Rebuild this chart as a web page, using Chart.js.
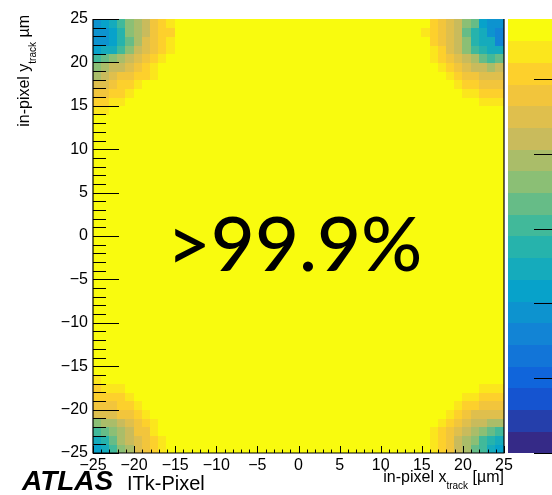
<!DOCTYPE html>
<html>
<head>
<meta charset="utf-8">
<script src="https://cdn.jsdelivr.net/npm/chart.js@4.4.1/dist/chart.umd.min.js"></script>
<style>
    html, body { margin: 0; padding: 0; background: #fff; }
</style>
</head>
<body>
<canvas id="effMap" width="552" height="495"></canvas>
<script>
// in-pixel binning (um), 1 um bins
var nBins = 50;
var axisMin = -25, axisMax = 25;
var tickLabels = [-25, -20, -15, -10, -5, 0, 5, 10, 15, 20, 25];
var bulkEff = 1.000;

// colour scale
var zMin = 0.940, zMax = 0.998, nContours = 20;
var zTicks = [0.94, 0.95, 0.96, 0.97, 0.98, 0.99];

// corner efficiencies: row 0 = bin row at the pixel edge, entry 0 = bin at the pixel edge
// (bins not listed are at bulkEff)
var cornerTopLeft = [
    [0.959, 0.962, 0.965, 0.970, 0.976, 0.979, 0.982, 0.988, 0.991, 0.994],
    [0.959, 0.959, 0.962, 0.968, 0.976, 0.979, 0.982, 0.988, 0.991, 0.991],
    [0.959, 0.959, 0.962, 0.968, 0.973, 0.979, 0.985, 0.988, 0.991, 0.994],
    [0.962, 0.965, 0.965, 0.970, 0.976, 0.982, 0.985, 0.988, 0.991, 0.994],
    [0.970, 0.973, 0.976, 0.979, 0.982, 0.985, 0.988, 0.991, 0.994],
    [0.976, 0.979, 0.982, 0.982, 0.985, 0.988, 0.991, 0.994],
    [0.979, 0.982, 0.985, 0.988, 0.988, 0.991, 0.991, 0.994],
    [0.985, 0.985, 0.988, 0.991, 0.991, 0.994],
    [0.988, 0.988, 0.991, 0.991, 0.994],
    [0.991, 0.991, 0.994, 0.994],
    [0.994, 0.994]
];
var cornerTopRight = [
    [0.959, 0.959, 0.962, 0.973, 0.976, 0.982, 0.985, 0.988, 0.991],
    [0.956, 0.959, 0.965, 0.968, 0.973, 0.982, 0.985, 0.988, 0.991, 0.994],
    [0.956, 0.965, 0.965, 0.968, 0.976, 0.982, 0.985, 0.988, 0.991],
    [0.965, 0.965, 0.968, 0.970, 0.976, 0.982, 0.985, 0.991, 0.994],
    [0.973, 0.970, 0.973, 0.979, 0.982, 0.985, 0.988, 0.991, 0.994],
    [0.982, 0.979, 0.982, 0.982, 0.985, 0.988, 0.991, 0.994],
    [0.985, 0.985, 0.985, 0.988, 0.988, 0.991, 0.994],
    [0.988, 0.988, 0.988, 0.991, 0.991, 0.994],
    [0.991, 0.991, 0.991, 0.994, 0.994],
    [0.994, 0.994, 0.994]
];
var cornerBottomLeft = [
    [0.962, 0.965, 0.970, 0.976, 0.979, 0.985, 0.988, 0.991, 0.994],
    [0.965, 0.968, 0.973, 0.979, 0.982, 0.985, 0.988, 0.991, 0.994],
    [0.970, 0.973, 0.976, 0.979, 0.982, 0.988, 0.988, 0.994],
    [0.976, 0.979, 0.979, 0.982, 0.985, 0.988, 0.991, 0.994],
    [0.985, 0.985, 0.985, 0.988, 0.988, 0.991, 0.994],
    [0.988, 0.988, 0.988, 0.991, 0.991, 0.994],
    [0.991, 0.991, 0.991, 0.991, 0.994],
    [0.991, 0.994, 0.994, 0.994],
    [0.994]
];
var cornerBottomRight = [
    [0.962, 0.965, 0.970, 0.973, 0.979, 0.982, 0.988, 0.991, 0.994],
    [0.965, 0.968, 0.970, 0.976, 0.979, 0.982, 0.988, 0.991, 0.994],
    [0.970, 0.973, 0.976, 0.979, 0.982, 0.985, 0.988, 0.991, 0.994],
    [0.979, 0.979, 0.982, 0.982, 0.985, 0.988, 0.991, 0.994],
    [0.985, 0.985, 0.985, 0.985, 0.988, 0.991, 0.994],
    [0.988, 0.988, 0.988, 0.991, 0.991, 0.994],
    [0.991, 0.991, 0.991, 0.994, 0.994],
    [0.994, 0.994, 0.994]
];

// ROOT kBird palette stops
var birdR = [0.2082, 0.0592, 0.0780, 0.0232, 0.1802, 0.5301, 0.8186, 0.9956, 0.9764];
var birdG = [0.1664, 0.3599, 0.5041, 0.6419, 0.7178, 0.7492, 0.7328, 0.7862, 0.9832];
var birdB = [0.5293, 0.8684, 0.8385, 0.7914, 0.6425, 0.4662, 0.3499, 0.1968, 0.0539];

function birdColor(t) {
    var p = Math.max(0, Math.min(1, t)) * (birdR.length - 1);
    var i = Math.min(Math.floor(p), birdR.length - 2);
    var f = p - i;
    var r = birdR[i] + (birdR[i + 1] - birdR[i]) * f;
    var g = birdG[i] + (birdG[i + 1] - birdG[i]) * f;
    var b = birdB[i] + (birdB[i + 1] - birdB[i]) * f;
    return 'rgb(' + Math.round(r * 255) + ',' + Math.round(g * 255) + ',' + Math.round(b * 255) + ')';
}

function levelColor(level) {
    return birdColor(level / (nContours - 1));
}

function valueLevel(v) {
    var l = Math.floor((v - zMin) / (zMax - zMin) * nContours);
    return Math.max(0, Math.min(nContours - 1, l));
}

// eff[ix][iy], iy = 0 at the bottom
var eff = [];
for (var ix = 0; ix < nBins; ix++) {
    eff.push([]);
    for (var iy = 0; iy < nBins; iy++) eff[ix].push(bulkEff);
}
function fillCorner(rows, fromRight, fromTop) {
    rows.forEach(function(row, r) {
        row.forEach(function(v, c) {
            var ix = fromRight ? nBins - 1 - c : c;
            var iy = fromTop ? nBins - 1 - r : r;
            eff[ix][iy] = v;
        });
    });
}
fillCorner(cornerTopLeft, false, true);
fillCorner(cornerTopRight, true, true);
fillCorner(cornerBottomLeft, false, false);
fillCorner(cornerBottomRight, true, false);

function fmtTick(v) {
    return v < 0 ? '\u2212' + Math.abs(v) : String(v);
}

// text with a subscript piece, pieces = [[text, isSub], ...]
function pieceWidths(ctx, pieces, mainFont, subFont) {
    return pieces.map(function(p) {
        ctx.font = p[1] ? subFont : mainFont;
        return ctx.measureText(p[0]).width;
    });
}
function drawPieces(ctx, pieces, x, y, mainFont, subFont, subDrop) {
    var w = pieceWidths(ctx, pieces, mainFont, subFont);
    pieces.forEach(function(p, i) {
        ctx.font = p[1] ? subFont : mainFont;
        ctx.fillText(p[0], x, p[1] ? y + subDrop : y);
        x += w[i];
    });
}

var heatmapPlugin = {
    id: 'heatmap',
    afterDraw: function(chart) {
        var ctx = chart.ctx;
        var xs = chart.scales.x, ys = chart.scales.y;
        var area = chart.chartArea;
        var binW = (axisMax - axisMin) / nBins;

        ctx.save();
        // cells
        for (var ix = 0; ix < nBins; ix++) {
            var x0 = xs.getPixelForValue(axisMin + ix * binW);
            var x1 = xs.getPixelForValue(axisMin + (ix + 1) * binW);
            for (var iy = 0; iy < nBins; iy++) {
                var y0 = ys.getPixelForValue(axisMin + iy * binW);
                var y1 = ys.getPixelForValue(axisMin + (iy + 1) * binW);
                ctx.fillStyle = levelColor(valueLevel(eff[ix][iy]));
                ctx.fillRect(Math.floor(x0), Math.floor(y1), Math.ceil(x1) - Math.floor(x0), Math.ceil(y0) - Math.floor(y1));
            }
        }

        // colour bar
        var barL = area.right + 4, barR = chart.width + 6;
        function zPix(z) {
            return area.bottom - (z - zMin) / (zMax - zMin) * (area.bottom - area.top);
        }
        var bw = (zMax - zMin) / nContours;
        for (var k = 0; k < nContours; k++) {
            var yb = zPix(zMin + k * bw), yt = zPix(zMin + (k + 1) * bw);
            ctx.fillStyle = levelColor(k);
            ctx.fillRect(barL, Math.floor(yt), barR - barL, Math.ceil(yb) - Math.floor(yt));
        }
        ctx.strokeStyle = '#000';
        ctx.lineWidth = 1;
        ctx.beginPath();
        zTicks.forEach(function(z) {
            var y = Math.round(zPix(z)) + 0.5;
            ctx.moveTo(barR - 24, y);
            ctx.lineTo(barR, y);
        });
        ctx.stroke();

        // frame: left, bottom, right
        ctx.strokeStyle = '#000';
        ctx.lineWidth = 1.2;
        ctx.beginPath();
        ctx.moveTo(area.left, area.top);
        ctx.lineTo(area.left, area.bottom);
        ctx.lineTo(area.right, area.bottom);
        ctx.lineTo(area.right, area.top);
        ctx.stroke();

        // ticks (1 um minor, 5 um major)
        ctx.lineWidth = 1;
        ctx.beginPath();
        for (var t = axisMin; t <= axisMax; t++) {
            var major = (t % 5 === 0);
            var py = Math.round(ys.getPixelForValue(t)) + 0.5;
            ctx.moveTo(area.left, py);
            ctx.lineTo(area.left + (major ? 26 : 13), py);
            var px = Math.round(xs.getPixelForValue(t)) + 0.5;
            ctx.moveTo(px, area.bottom);
            ctx.lineTo(px, area.bottom - (major ? 7 : 3.5));
        }
        ctx.stroke();

        // tick labels
        ctx.fillStyle = '#000';
        ctx.font = '16px "Liberation Sans", Arial, sans-serif';
        ctx.textBaseline = 'middle';
        ctx.textAlign = 'right';
        tickLabels.forEach(function(v) {
            ctx.fillText(fmtTick(v), area.left - 5, ys.getPixelForValue(v));
        });
        ctx.textAlign = 'center';
        ctx.textBaseline = 'alphabetic';
        tickLabels.forEach(function(v) {
            ctx.fillText(fmtTick(v), xs.getPixelForValue(v), area.bottom + 17);
        });

        // axis titles
        var mainFont = '16px "Liberation Sans", Arial, sans-serif';
        var subFont = '10px "Liberation Sans", Arial, sans-serif';
        ctx.textAlign = 'left';
        var xTitle = [['in-pixel x', false], ['track', true], [' [\u00b5m]', false]];
        var xw = pieceWidths(ctx, xTitle, mainFont, subFont).reduce(function(a, b) { return a + b; }, 0);
        drawPieces(ctx, xTitle, area.right - xw, area.bottom + 29, mainFont, subFont, 7);

        var yTitle = [['in-pixel y', false], ['track', true], [' \u00b5m', false]];
        var yw = pieceWidths(ctx, yTitle, mainFont, subFont).reduce(function(a, b) { return a + b; }, 0);
        ctx.save();
        ctx.translate(29, 15);
        ctx.rotate(-Math.PI / 2);
        drawPieces(ctx, yTitle, -yw, 0, mainFont, subFont, 7);
        ctx.restore();

        // overall efficiency
        ctx.textAlign = 'center';
        ctx.font = '500 76px Lato, "Noto Sans", sans-serif';
        ctx.fillText('>99.9%', (area.left + area.right) / 2 - 4, 271);

        // experiment label
        ctx.textAlign = 'left';
        ctx.font = 'italic bold 28px "Liberation Sans", Arial, sans-serif';
        ctx.fillText('ATLAS', 22, 490);
        ctx.font = '20px "Liberation Sans", Arial, sans-serif';
        ctx.fillText('ITk-Pixel', 127, 490);
        ctx.restore();
    }
};

var effChart = new Chart(document.getElementById('effMap').getContext('2d'), {
    type: 'scatter',
    data: { datasets: [{ data: [] }] },
    options: {
        responsive: false,
        animation: false,
        devicePixelRatio: 1,
        layout: { padding: { left: 93, right: 48, top: 19, bottom: 42 } },
        plugins: { legend: { display: false }, tooltip: { enabled: false } },
        scales: {
            x: { type: 'linear', min: axisMin, max: axisMax, display: false },
            y: { type: 'linear', min: axisMin, max: axisMax, display: false }
        }
    },
    plugins: [heatmapPlugin]
});
</script>
</body>
</html>
